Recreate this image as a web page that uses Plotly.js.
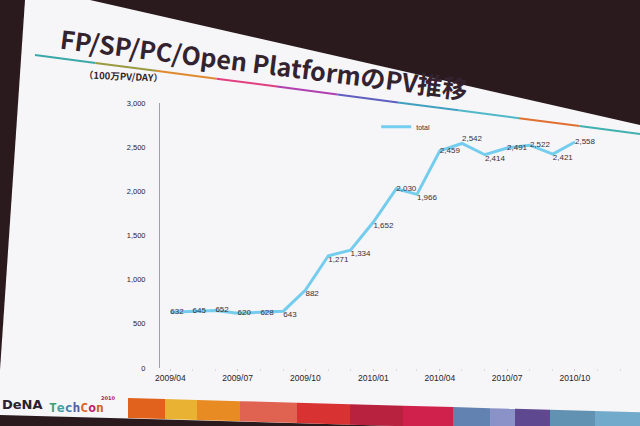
<!DOCTYPE html>
<html>
<head>
<meta charset="utf-8">
<script src="https://cdn.plot.ly/plotly-3.0.1.min.js"></script>
<style>html,body{margin:0;padding:0;background:#2a1a1e;}#chart{width:640px;height:426px;}</style>
</head>
<body>
<div id="chart"></div>
<script>
// ---- data ----
var months = ['2009-04-01','2009-05-01','2009-06-01','2009-07-01','2009-08-01','2009-09-01','2009-10-01',
              '2009-11-01','2009-12-01','2010-01-01','2010-02-01','2010-03-01','2010-04-01','2010-05-01',
              '2010-06-01','2010-07-01','2010-08-01','2010-09-01','2010-10-01'];
var totalPV = [632,645,652,620,628,643,882,1271,1334,1652,2030,1966,2459,2542,2414,2491,2522,2421,2558];
var labelPos = ['middle right','middle right','middle right','middle right','middle right','bottom right',
                'bottom right','bottom right','bottom right','bottom right','middle right','bottom right',
                'middle right','top right','bottom right','middle right','middle right','bottom right','middle right'];
var seriesName = 'total';
var titleText = 'FP/SP/PC/Open PlatformのPV推移';
var unitText = '（100万PV/DAY）';
var stripColors = ['#e0621c','#e9b232','#e88b22','#e06250','#d83232','#b8223e','#d0204c','#6282b2','#8a92c8','#5e4890','#6292b2','#72aacc'];
var stripEdges = [128,165,197,240,297,350,403,453,490,515,550,595,640];
var ruleColors = ['#3aa8a8','#9a9a40','#e08a30','#e04080','#b040b0','#6060c0','#40a0c0','#50b8c8','#e07030','#40b0b0'];

// ---- layout geometry ----
var W = 640, H = 426, M = {l:160, r:20, t:103, b:58};
function px(x){ return (x - M.l) / (W - M.l - M.r); }
function py(y){ return (H - M.b - y) / (H - M.t - M.b); }

var shapes = [];
// slide (white screen area)
var poly = [[25,0],[90,0],[640,125],[640,426],[400,426],[0,415],[0,370]];
shapes.push({type:'path', xref:'paper', yref:'paper', layer:'below', line:{width:0}, fillcolor:'#f6f5f7',
  path: 'M' + poly.map(function(p){return px(p[0])+','+py(p[1]);}).join(' L') + ' Z'});
// colored rule under the title
var x0 = 35, y0 = 55, x1 = 640, y1 = 134;
for (var i = 0; i < ruleColors.length; i++) {
  var a = i / ruleColors.length, b2 = (i + 1) / ruleColors.length;
  shapes.push({type:'line', xref:'paper', yref:'paper', layer:'below',
    x0:px(x0 + (x1-x0)*a), y0:py(y0 + (y1-y0)*a), x1:px(x0 + (x1-x0)*b2), y1:py(y0 + (y1-y0)*b2),
    line:{color:ruleColors[i], width:2}});
}
// bottom color strip
for (var j = 0; j < stripColors.length; j++) {
  var xa = stripEdges[j], xb = stripEdges[j+1];
  var ta = 398 + (xa-128)*0.028, tb = 398 + (xb-128)*0.028;
  var ba = 418 + (xa-128)*0.03, bb = 418 + (xb-128)*0.03;
  shapes.push({type:'path', xref:'paper', yref:'paper', layer:'below', line:{width:0}, fillcolor:stripColors[j],
    path:'M'+px(xa)+','+py(ta)+' L'+px(xb)+','+py(tb)+' L'+px(xb)+','+py(Math.min(bb,430))+' L'+px(xa)+','+py(Math.min(ba,430))+' Z'});
}

var annotations = [
  {text:'<b>'+titleText+'</b>', xref:'paper', yref:'paper', x:px(264), y:py(63), xanchor:'center', yanchor:'middle',
   showarrow:false, textangle:7.1,
   font:{family:'Noto Sans CJK JP, Noto Sans, sans-serif', size:25, color:'#33232f'}},
  {text:'<b>'+unitText+'</b>', xref:'paper', yref:'paper', x:px(123), y:py(76), xanchor:'center', yanchor:'middle',
   showarrow:false, textangle:2.5,
   font:{family:'Noto Sans CJK JP, sans-serif', size:9.5, color:'#33262f'}},
  {text:'<b>DeNA</b>', xref:'paper', yref:'paper', x:px(0), y:py(404), xanchor:'left', yanchor:'middle', showarrow:false,
   font:{family:'DejaVu Sans, sans-serif', size:13, color:'#2a2030'}},
  {text:'<b><span style="color:#3aa070">T</span><span style="color:#40a0a0">e</span><span style="color:#4080b0">c</span><span style="color:#5060a8">h</span><span style="color:#e06020">C</span><span style="color:#c02070">o</span><span style="color:#d06020">n</span></b>',
   xref:'paper', yref:'paper', x:px(47), y:py(407), xanchor:'left', yanchor:'middle', showarrow:false,
   font:{family:'DejaVu Sans Mono, monospace', size:13, color:'#3aa070'}},
  {text:'<b>2010</b>', xref:'paper', yref:'paper', x:px(99), y:py(398), xanchor:'left', yanchor:'middle', showarrow:false,
   font:{family:'DejaVu Sans, sans-serif', size:5, color:'#b02060'}}
];

var trace = {
  x: months, y: totalPV, name: seriesName, type:'scatter', mode:'lines+text',
  line:{color:'#74cdee', width:3},
  texttemplate:'%{y:,}', textposition: labelPos,
  textfont:{family:'Liberation Sans, Arial, sans-serif', size:8, color:'#3a2f38'},
  hoverinfo:'skip'
};

var layout = {
  width:W, height:H, margin:M,
  paper_bgcolor:'#2a1a1e', plot_bgcolor:'rgba(0,0,0,0)',
  showlegend:true,
  legend:{x:0.47, y:0.91, xanchor:'left', yanchor:'middle', bgcolor:'rgba(0,0,0,0)',
          font:{family:'Liberation Sans, Arial, sans-serif', size:7, color:'#3a2f38'}},
  xaxis:{type:'date', range:['2009-03-18','2010-12-01'], dtick:'M3', tick0:'2009-04-01', tickformat:'%Y/%m',
         showgrid:false, zeroline:false, showline:false, ticks:'outside', ticklen:2, tickcolor:'#cccccc',
         minor:{dtick:'M1', ticks:'outside', ticklen:2, tickcolor:'#dddddd'},
         tickfont:{family:'Liberation Sans, Arial, sans-serif', size:8.5, color:'#2a2228'}},
  yaxis:{range:[0,3000], dtick:500, tickformat:',d', showgrid:false, zeroline:false,
         showline:true, linecolor:'#a0a0a8', linewidth:1, ticks:'', ticklabelstandoff:12,
         tickfont:{family:'Liberation Sans, Arial, sans-serif', size:7.5, color:'#2a2228'}},
  shapes:shapes, annotations:annotations
};

Plotly.newPlot('chart', [trace], layout, {displayModeBar:false, staticPlot:true});
</script>
</body>
</html>
